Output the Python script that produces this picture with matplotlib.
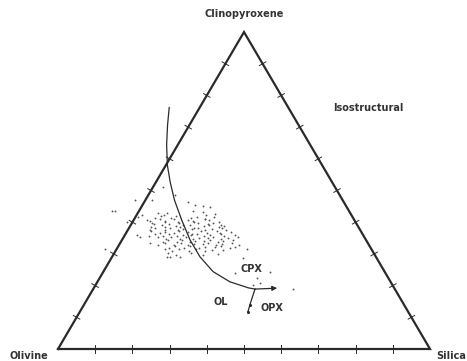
import numpy as np
import matplotlib
matplotlib.use("Agg")
import matplotlib.pyplot as plt

# compositions in percent: clinopyroxene and silica (olivine = remainder)
cpx_pts = [
    42.9, 42.2, 42.8, 43.1, 42.3, 42.7,
    41.2, 41.9, 41.4, 42.0, 41.3, 41.8, 41.1, 41.7,
    40.3, 41.0, 40.5, 40.9, 40.2, 40.8, 40.4, 41.1, 40.6, 40.1,
    39.9, 39.3, 40.1, 39.5, 39.8, 39.2, 40.0, 39.6, 39.4, 39.9, 39.1,
    38.5, 39.1, 38.4, 38.9, 38.6, 39.2, 38.3, 38.8, 39.0, 38.5, 38.9,
    37.6, 38.2, 37.7, 38.1, 37.5, 38.0, 37.8, 38.3, 37.4, 37.9, 38.2, 37.6,
    37.2, 36.6, 37.0, 36.5, 37.3, 36.8, 36.4, 37.1, 36.7, 37.2, 36.6, 36.9,
    35.7, 36.3, 35.8, 36.2, 35.6, 36.1, 35.9, 36.4, 35.7, 36.0, 36.3, 35.6, 36.1,
    35.3, 34.7, 35.2, 34.8, 35.4, 34.6, 35.1, 34.9, 35.3, 34.7, 35.0, 35.2,
    33.8, 34.4, 33.9, 34.3, 33.7, 34.2, 34.0, 34.5, 33.8, 34.1, 34.3,
    33.4, 32.8, 33.3, 32.9, 33.5, 32.7, 33.2, 33.0, 33.4, 32.8, 33.1, 33.3, 32.9,
    31.9, 32.5, 32.0, 32.4, 31.8, 32.3, 32.1, 32.6, 31.9, 32.2,
    31.5, 30.9, 31.4, 31.0, 31.6, 30.8, 31.3, 31.1,
    30.2, 29.7, 30.3, 29.8, 30.1,
    47.0, 43.5, 43.5, 31.5, 40.1, 47.0, 51.1, 48.6, 46.4, 45.4, 45.1, 44.8,
    43.5, 31.5, 28.7, 24.0, 24.3, 18.9, 22.4, 20.8, 29.0, 29.0, 29.0,
    41.6, 42.3, 40.7, 36.0, 35.3, 20.2,
]
si_pts = [
    5.4, 7.3, 8.0, 17.3, 18.6, 20.9,
    5.6, 6.8, 9.6, 10.6, 15.0, 16.5, 19.1, 21.0,
    4.6, 6.9, 8.4, 10.7, 12.1, 14.5, 16.2, 18.9, 20.2, 23.1,
    5.2, 6.2, 8.8, 10.0, 12.7, 14.0, 16.6, 17.8, 20.5, 21.8, 24.4,
    5.8, 8.3, 9.6, 12.2, 13.4, 15.9, 17.4, 19.9, 21.2, 23.9, 25.1,
    5.8, 7.1, 9.8, 11.1, 13.6, 14.6, 17.1, 18.4, 20.9, 22.4, 24.9, 26.4,
    6.5, 9.0, 10.3, 12.8, 14.0, 16.5, 17.8, 20.0, 21.6, 24.1, 25.3, 28.1,
    6.5, 7.8, 10.3, 11.8, 14.3, 15.6, 17.8, 19.1, 21.5, 22.8, 25.6, 26.9, 29.6,
    9.1, 11.6, 12.8, 15.3, 16.6, 19.1, 20.4, 22.9, 24.1, 26.6, 28.2, 30.7,
    11.2, 12.5, 15.0, 16.3, 18.7, 19.7, 22.2, 23.5, 26.0, 27.3, 30.0,
    7.9, 10.4, 12.2, 14.7, 16.2, 18.7, 20.0, 22.5, 23.7, 26.2, 27.5, 30.0, 32.1,
    13.8, 15.1, 17.8, 19.4, 22.1, 23.4, 26.1, 27.4, 30.2, 31.5,
    12.9, 15.3, 16.9, 19.6, 21.2, 24.2, 25.8, 28.8,
    14.6, 17.0, 20.5, 24.0, 28.0,
    -2.8, -7.2, -6.4, -3.1, -1.5, 1.8, 2.7, 7.2, 11.7, 14.1, 16.4, 18.5,
    14.5, 35.1, 35.4, 35.6, 44.8, 53.7, 42.3, 43.9, 14.8, 15.6, 18.3,
    0.7, 1.4, 3.6, 3.2, 4.4, 42.3,
]

# olivine-clinopyroxene cotectic curve, ending at the OL-CPX-OPX point
curve_cpx = [76.2, 70.7, 64.4, 58.0, 52.7, 47.0, 40.7, 34.4, 29.1, 24.4, 21.2, 19.3, 18.9]
curve_si = [-8.2, -5.9, -3.0, 0.4, 3.8, 7.8, 12.9, 18.3, 23.6, 29.5, 35.6, 41.5, 43.5]
arrow_end = (19.2, 49.3)
opx_cpx = [18.9, 14.0, 11.7]
opx_si = [43.5, 44.6, 45.2]

H = np.sqrt(3) / 2


def to_xy(cpx, si):
    cpx = np.asarray(cpx, dtype=float) / 100.0
    si = np.asarray(si, dtype=float) / 100.0
    return si + cpx / 2.0, cpx * H


fig = plt.figure(figsize=(4.67, 3.61), dpi=100)
ax = fig.add_axes([0, 0, 1, 1])
ax.set_xlim(-58 / 372, 409 / 372)
ax.set_ylim(-12 / 366, 349 / 366)
ax.axis("off")

ink = "#2a2a2a"

# triangle
vx, vy = to_xy([0, 0, 100, 0], [0, 100, 0, 0])
ax.plot(vx, vy, color=ink, lw=1.6, solid_joinstyle="miter")

# 10 % tick marks along every edge
edges = [((0, 0), (0, 100)), ((0, 100), (100, 0)), ((100, 0), (0, 0))]
for (c0, s0), (c1, s1) in edges:
    x0, y0 = to_xy(c0, s0)
    x1, y1 = to_xy(c1, s1)
    dx, dy = x1 - x0, y1 - y0
    nx, ny = -dy, dx
    nlen = np.hypot(nx, ny)
    nx, ny = nx / nlen * 0.010, ny / nlen * 0.010
    for f in np.arange(0.1, 0.95, 0.1):
        px, py = x0 + f * dx, y0 + f * dy
        ax.plot([px - nx, px + nx], [py - ny, py + ny], color=ink, lw=0.7)

# analyses
px, py = to_xy(cpx_pts, si_pts)
ax.scatter(px, py, s=1.8, color="#555555", linewidths=0)

# cotectic and reaction curves
cx, cy = to_xy(curve_cpx, curve_si)
ax.plot(cx, cy, color=ink, lw=0.9)
ex, ey = to_xy(*arrow_end)
ax.annotate("", xy=(ex, ey), xytext=(cx[-1], cy[-1]),
            arrowprops=dict(arrowstyle="-|>", color=ink, lw=0.9,
                            mutation_scale=7, shrinkA=0, shrinkB=0))
ox, oy = to_xy(opx_cpx, opx_si)
ax.plot(ox, oy, color=ink, lw=0.9)
ax.scatter(ox[1:], oy[1:], s=5, color=ink, linewidths=0)

fs = 7
kw = dict(fontsize=fs, color="#333333", fontweight="bold")
ax.text(0.5, H + 0.036, "Clinopyroxene", ha="center", va="bottom", **kw)
ax.text(-0.027, -0.019, "Olivine", ha="right", va="center", **kw)
ax.text(1.017, -0.019, "Silica", ha="left", va="center", **kw)
ax.text(0.835, 0.658, "Isostructural", ha="center", va="center", **kw)

lx, ly = to_xy(25.2, 39.3)
ax.text(lx, ly, "CPX", ha="center", va="center", **kw)
lx, ly = to_xy(14.8, 36.4)
ax.text(lx, ly, "OL", ha="center", va="center", **kw)
lx, ly = to_xy(12.9, 51.0)
ax.text(lx, ly, "OPX", ha="center", va="center", **kw)

fig.savefig("out.png", dpi=100)
